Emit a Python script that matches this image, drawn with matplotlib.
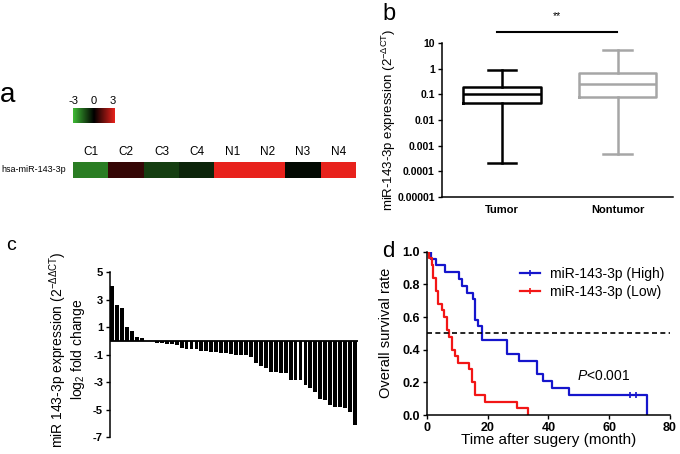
import matplotlib
matplotlib.use('Agg')
import matplotlib.pyplot as plt
import numpy as np
from matplotlib.colors import LinearSegmentedColormap
from matplotlib.lines import Line2D
from matplotlib.ticker import NullLocator

plt.rcParams['font.family'] = ['Liberation Sans', 'DejaVu Sans']
plt.rcParams['mathtext.fontset'] = 'custom'
plt.rcParams['mathtext.rm'] = 'Liberation Sans'
plt.rcParams['mathtext.it'] = 'Liberation Sans:italic'
plt.rcParams['mathtext.bf'] = 'Liberation Sans:bold'
plt.rcParams['mathtext.default'] = 'regular'

# panel a: heatmap
heat_labels = ['C1', 'C2', 'C3', 'C4', 'N1', 'N2', 'N3', 'N4']
heat_values = [-2.0, 0.7, -1.0, -0.6, 3.0, 3.0, -0.15, 3.0]
row_label = 'hsa-miR-143-3p'

# panel b: box plot
groups = ['Tumor', 'Nontumor']
box_whislo = [0.00021, 0.00046]
box_q1 = [0.047, 0.078]
box_med = [0.105, 0.267]
box_q3 = [0.198, 0.72]
box_whishi = [0.91, 5.4]
b_ticks = [1e-5, 1e-4, 1e-3, 1e-2, 1e-1, 1, 10]
b_ticklabels = ['0.00001', '0.0001', '0.001', '0.01', '0.1', '1', '10']

# panel c: waterfall of log2 fold change
fold_change = [4.0, 2.65, 2.4, 1.05, 0.7, 0.3, 0.2, 0.03, 0.02,
               -0.12, -0.15, -0.2, -0.25, -0.3, -0.55, -0.58, -0.6, -0.62,
               -0.72, -0.75, -0.8, -0.8, -0.85, -0.9, -0.95, -1.0, -1.0,
               -1.05, -1.2, -1.6, -1.8, -1.95, -2.25, -2.3, -2.35, -2.35,
               -2.85, -2.85, -2.85, -3.2, -3.45, -3.7, -4.2, -4.3, -4.65,
               -4.8, -4.85, -4.9, -5.15, -6.1]
c_ticks = [5, 3, 1, -1, -3, -5, -7]

# panel d: Kaplan-Meier
high_t = [0, 1.5, 3.0, 6.0, 10.7, 11.5, 13.1, 15.1, 15.9, 17.0, 18.1,
          26.3, 30.4, 36.4, 38.4, 41.3, 46.8, 72.5]
high_s = [1.0, 0.958, 0.917, 0.875, 0.833, 0.792, 0.75, 0.708, 0.583, 0.542,
          0.458, 0.375, 0.333, 0.25, 0.208, 0.167, 0.125, 0.0]
high_censor_t = [66.8, 68.8]
high_censor_s = [0.125, 0.125]
low_t = [0, 0.9, 1.6, 2.0, 3.1, 3.8, 4.9, 5.7, 6.6, 7.4, 8.2, 9.3, 10.4,
         14.0, 14.8, 15.9, 19.2, 29.6, 33.4]
low_s = [1.0, 0.96, 0.92, 0.84, 0.76, 0.68, 0.64, 0.60, 0.52, 0.48, 0.40,
         0.36, 0.32, 0.28, 0.20, 0.12, 0.08, 0.04, 0.0]

W, H = 680, 454


def box(x0, y0, x1, y1):
    return [x0 / W, 1 - y1 / H, (x1 - x0) / W, (y1 - y0) / H]


fig = plt.figure(figsize=(6.8, 4.54), dpi=100)

cmap = LinearSegmentedColormap.from_list('gbr', ['#3fbb35', '#000000', '#e8221c'])

# ---- panel a
ax_cb = fig.add_axes(box(72.7, 108.3, 114, 123.3))
grad = np.linspace(-3, 3, 256)
ax_cb.imshow(grad[None, :], cmap=cmap, vmin=-3, vmax=3, aspect='auto',
             extent=[-3.2, 3.2, 0, 1])
ax_cb.set_xticks([-3, 0, 3])
ax_cb.set_xticklabels(['-3', '0', '3'])
ax_cb.xaxis.tick_top()
ax_cb.tick_params(length=0, pad=2, labelsize=8)
ax_cb.set_yticks([])
for s in ax_cb.spines.values():
    s.set_visible(False)

ax_h = fig.add_axes(box(73.3, 161.7, 356, 177.7))
ax_h.imshow(np.array([heat_values]), cmap=cmap, vmin=-3, vmax=3, aspect='auto')
ax_h.set_xticks(range(len(heat_labels)))
ax_h.set_xticklabels(heat_labels)
ax_h.xaxis.tick_top()
ax_h.tick_params(length=0, pad=3, labelsize=8.5)
ax_h.set_yticks([])
for s in ax_h.spines.values():
    s.set_visible(False)
fig.text(1 / W, 1 - 170 / H, row_label, fontsize=6.5, va='center', ha='left')

# ---- panel b
ax_b = fig.add_axes(box(441.7, 43.3, 673, 196.7))
stats = []
for i in range(len(groups)):
    stats.append({'whislo': box_whislo[i], 'q1': box_q1[i], 'med': box_med[i],
                  'q3': box_q3[i], 'whishi': box_whishi[i], 'fliers': []})
parts = ax_b.bxp(stats, positions=[1, 2], widths=0.67, capwidths=0.25,
                 showfliers=False, patch_artist=False)
box_colors = ['black', '#a6a6a6']
for i, c in enumerate(box_colors):
    parts['boxes'][i].set(color=c, linewidth=1.8)
    parts['medians'][i].set(color=c, linewidth=1.8)
    for art in parts['whiskers'][2 * i:2 * i + 2] + parts['caps'][2 * i:2 * i + 2]:
        art.set(color=c, linewidth=1.8)
ax_b.set_yscale('log')
ax_b.set_ylim(1e-5, 10)
ax_b.set_xlim(0.479, 2.478)
ax_b.set_yticks(b_ticks)
ax_b.set_yticklabels(b_ticklabels, fontweight='bold', fontsize=7.5)
ax_b.yaxis.set_minor_locator(NullLocator())
ax_b.set_xticks([1, 2])
ax_b.set_xticklabels(groups, fontweight='bold', fontsize=8)
ax_b.tick_params(axis='x', length=0, pad=6)
ax_b.tick_params(axis='y', length=3, width=1, pad=2)
for s in ['top', 'right']:
    ax_b.spines[s].set_visible(False)
for s in ['left', 'bottom']:
    ax_b.spines[s].set_linewidth(1.1)
ax_b.set_ylabel(r'miR-143-3p expression (2$^{-\Delta CT}$)', fontsize=9.5)
ax_b.yaxis.set_label_coords(-0.19, 0.5)
ax_b.plot([0.957, 1.994], [28, 28], color='black', lw=1.5, clip_on=False)
ax_b.text(1.475, 120, '**', ha='center', va='center', fontsize=7.5)

# ---- panel c
ax_c = fig.add_axes(box(110, 272.3, 358, 437))
ax_c.bar(range(len(fold_change)), fold_change, width=0.78, color='black')
ax_c.axhline(0, color='black', lw=1.3)
ax_c.set_xlim(-0.45, len(fold_change) - 0.4)
ax_c.set_ylim(-7, 5)
ax_c.set_yticks(c_ticks)
ax_c.set_yticklabels([str(t) for t in c_ticks], fontweight='bold', fontsize=8)
ax_c.set_xticks([])
ax_c.tick_params(axis='y', length=3, width=1, pad=2)
for s in ['top', 'right', 'bottom']:
    ax_c.spines[s].set_visible(False)
ax_c.spines['left'].set_linewidth(1.1)
ax_c.set_ylabel('miR 143-3p expression (2$^{-\\Delta\\Delta CT}$)\nlog$_2$ fold change',
                fontsize=10, linespacing=1.0)
ax_c.yaxis.set_label_coords(-0.0915, 0.53)

# ---- panel d
ax_d = fig.add_axes(box(426.7, 251.7, 670, 415))
blue, red = '#1515cc', '#f21616'
ax_d.step(high_t, high_s, where='post', color=blue, lw=1.6)
ax_d.step(low_t, low_s, where='post', color=red, lw=1.6)
ax_d.plot(high_censor_t, high_censor_s, '|', color=blue, ms=5, mew=1.2)
ax_d.axhline(0.5, color='black', lw=1.2, ls=(0, (3, 2)))
ax_d.set_xlim(0, 80)
ax_d.set_ylim(0, 1)
ax_d.set_xticks([0, 20, 40, 60, 80])
ax_d.set_yticks([0, 0.2, 0.4, 0.6, 0.8, 1.0])
ax_d.set_yticklabels(['0.0', '0.2', '0.4', '0.6', '0.8', '1.0'])
for lab in ax_d.get_xticklabels() + ax_d.get_yticklabels():
    lab.set_fontweight('bold')
    lab.set_fontsize(9)
ax_d.tick_params(length=3, width=1, pad=2)
for s in ['top', 'right']:
    ax_d.spines[s].set_visible(False)
for s in ['left', 'bottom']:
    ax_d.spines[s].set_linewidth(1.1)
ax_d.set_xlabel('Time after sugery (month)', fontsize=11)
ax_d.xaxis.set_label_coords(0.5, -0.11)
ax_d.set_ylabel('Overall survival rate', fontsize=10.5)
ax_d.yaxis.set_label_coords(-0.1385, 0.5)
ax_d.text(49.3, 0.24, r'$\it{P}$<0.001', fontsize=10, va='center')
handles = [Line2D([], [], color=blue, lw=1.6, marker='|', ms=5, mew=1.2),
           Line2D([], [], color=red, lw=1.6, marker='|', ms=5, mew=1.2)]
ax_d.legend(handles, ['miR-143-3p (High)', 'miR-143-3p (Low)'], loc='upper left',
            bbox_to_anchor=(0.385, 0.905), frameon=False, fontsize=10,
            handlelength=1.4, handletextpad=0.7, labelspacing=0.25,
            borderpad=0, borderaxespad=0, numpoints=1)

# panel letters
fig.text(0 / W, 1 - 102 / H, 'a', fontsize=20, va='baseline')
fig.text(382 / W, 1 - 20 / H, 'b', fontsize=17, va='baseline')
fig.text(6 / W, 1 - 250 / H, 'c', fontsize=14, va='baseline')
fig.text(381.7 / W, 1 - 256.7 / H, 'd', fontsize=16, va='baseline')

fig.savefig('out.png', dpi=100)
